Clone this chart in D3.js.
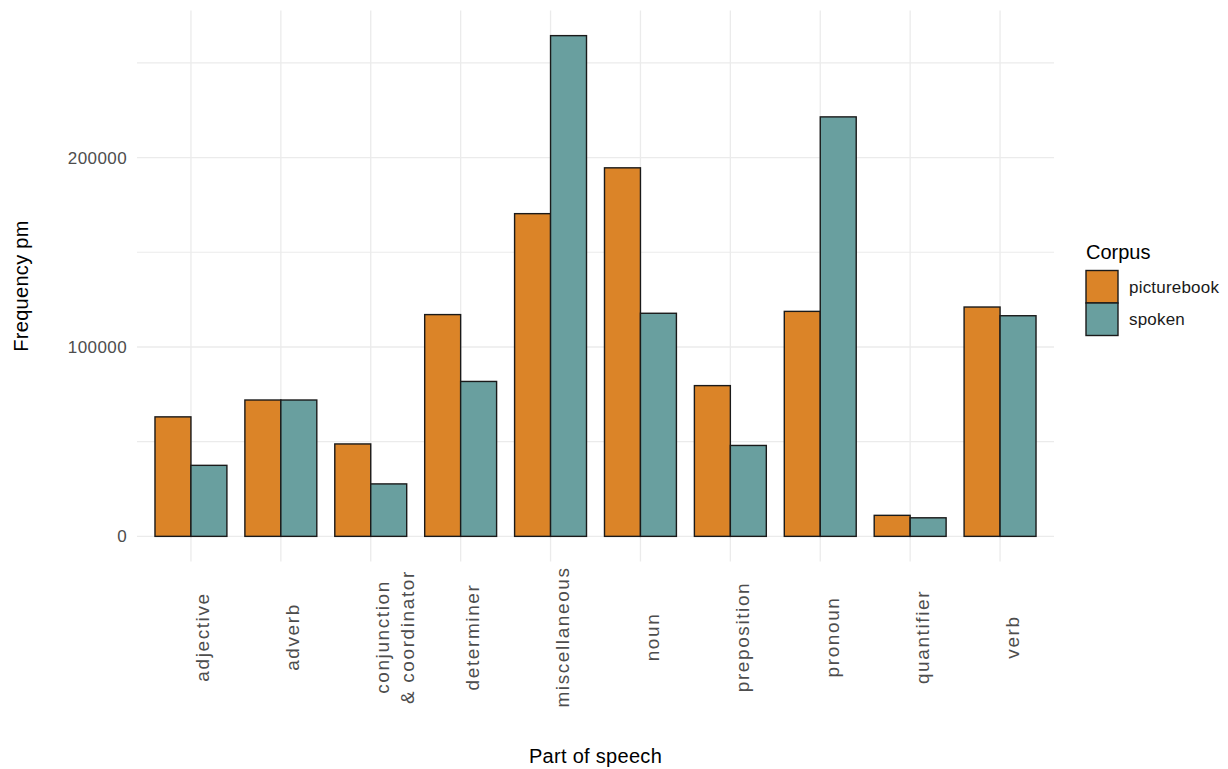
<!DOCTYPE html>
<html>
<head>
<meta charset="utf-8">
<script src="https://cdn.jsdelivr.net/npm/d3@7"></script>
<style>
  html, body { margin: 0; padding: 0; background: #ffffff; }
  svg { display: block; font-family: "Liberation Sans", Arial, sans-serif; }
</style>
</head>
<body>
<svg id="chart" width="1228" height="769"></svg>
<script>
// ---- data ----
const categories = ["adjective", "adverb", "conjunction\n& coordinator", "determiner", "miscellaneous",
                    "noun", "preposition", "pronoun", "quantifier", "verb"];
const seriesNames = ["picturebook", "spoken"];
const picturebook = [63100, 72000, 48800, 117100, 170400, 194600, 79600, 118800, 11100, 121100];
const spoken      = [37500, 72000, 27700, 81800, 264400, 117800, 48000, 221500, 9800, 116500];
const yTicks = [0, 100000, 200000];
const yMinorTicks = [50000, 150000, 250000];
const colors = ["#DB8428", "#699F9F"];

// ---- layout ----
const svg = d3.select("#chart");
const panel = { left: 137, right: 1054, top: 10.6, bottom: 561.4 };

const ymax = d3.max(picturebook.concat(spoken));
const pad = 0.05 * ymax;
const y = d3.scaleLinear().domain([-pad, ymax + pad]).range([panel.bottom, panel.top]);
const x = d3.scalePoint().domain(categories).range([panel.left, panel.right]).padding(0.6);
const step = x.step();
const barW = 0.4 * step;

const grid = svg.append("g");
// minor horizontal
grid.selectAll("line.hmin").data(yMinorTicks).join("line")
  .attr("x1", panel.left).attr("x2", panel.right)
  .attr("y1", d => y(d)).attr("y2", d => y(d))
  .attr("stroke", "#EBEBEB").attr("stroke-width", 1.1);
// major horizontal
grid.selectAll("line.hmaj").data(yTicks).join("line")
  .attr("x1", panel.left).attr("x2", panel.right)
  .attr("y1", d => y(d)).attr("y2", d => y(d))
  .attr("stroke", "#EBEBEB").attr("stroke-width", 1.3);
// vertical
grid.selectAll("line.v").data(categories).join("line")
  .attr("x1", d => x(d)).attr("x2", d => x(d))
  .attr("y1", panel.top).attr("y2", panel.bottom)
  .attr("stroke", "#EBEBEB").attr("stroke-width", 1.3);

// bars
const rows = [];
categories.forEach((c, i) => {
  rows.push({ cat: c, s: 0, v: picturebook[i] });
  rows.push({ cat: c, s: 1, v: spoken[i] });
});
svg.append("g").selectAll("rect").data(rows).join("rect")
  .attr("x", d => x(d.cat) - barW + d.s * barW)
  .attr("width", barW)
  .attr("y", d => y(d.v))
  .attr("height", d => y(0) - y(d.v))
  .attr("fill", d => colors[d.s])
  .attr("stroke", "#1a1a1a")
  .attr("stroke-width", 1.4);

// y axis labels
const yAxis = d3.axisLeft(y).tickValues(yTicks).tickFormat(d3.format("d")).tickSize(0).tickPadding(10);
const yg = svg.append("g").attr("transform", `translate(${panel.left},0)`).call(yAxis);
yg.select(".domain").remove();
yg.selectAll("text").attr("fill", "#4D4D4D").attr("font-size", 17)
  .attr("font-family", "Liberation Sans, Arial, sans-serif").style("letter-spacing", "0.4px");

// x axis labels (rotated)
const xg = svg.append("g");
categories.forEach(c => {
  const lines = c.split("\n");
  const cx = x(c);
  lines.forEach((ln, j) => {
    const bx = cx + 18.5 + j * 25;
    xg.append("text")
      .attr("transform", `translate(${bx},637) rotate(-90)`)
      .attr("text-anchor", "middle")
      .attr("fill", "#4D4D4D")
      .attr("font-size", 19)
      .style("letter-spacing", "1.6px")
      .text(ln);
  });
});

// axis titles
svg.append("text")
  .attr("x", (panel.left + panel.right) / 2).attr("y", 763)
  .attr("text-anchor", "middle").attr("font-size", 20).attr("fill", "#000")
  .style("letter-spacing", "0.3px")
  .text("Part of speech");
svg.append("text")
  .attr("transform", `translate(27.6,${(panel.top + panel.bottom) / 2}) rotate(-90)`)
  .attr("text-anchor", "middle").attr("font-size", 20).attr("fill", "#000")
  .style("letter-spacing", "0.3px")
  .text("Frequency pm");

// legend
const lg = svg.append("g");
lg.append("text").attr("x", 1086).attr("y", 259).attr("font-size", 20).attr("fill", "#000").text("Corpus");
const keyH = 32.5, keyW = 32, keyTop = 270.5;
seriesNames.forEach((s, i) => {
  lg.append("rect")
    .attr("x", 1086).attr("y", keyTop + i * keyH)
    .attr("width", keyW).attr("height", keyH)
    .attr("fill", colors[i]).attr("stroke", "#1a1a1a").attr("stroke-width", 1.4);
  lg.append("text")
    .attr("x", 1129).attr("y", keyTop + i * keyH + keyH / 2)
    .attr("dy", "0.35em")
    .attr("font-size", 17).attr("fill", "#1a1a1a")
    .style("letter-spacing", "0.2px")
    .text(s);
});
</script>
</body>
</html>
